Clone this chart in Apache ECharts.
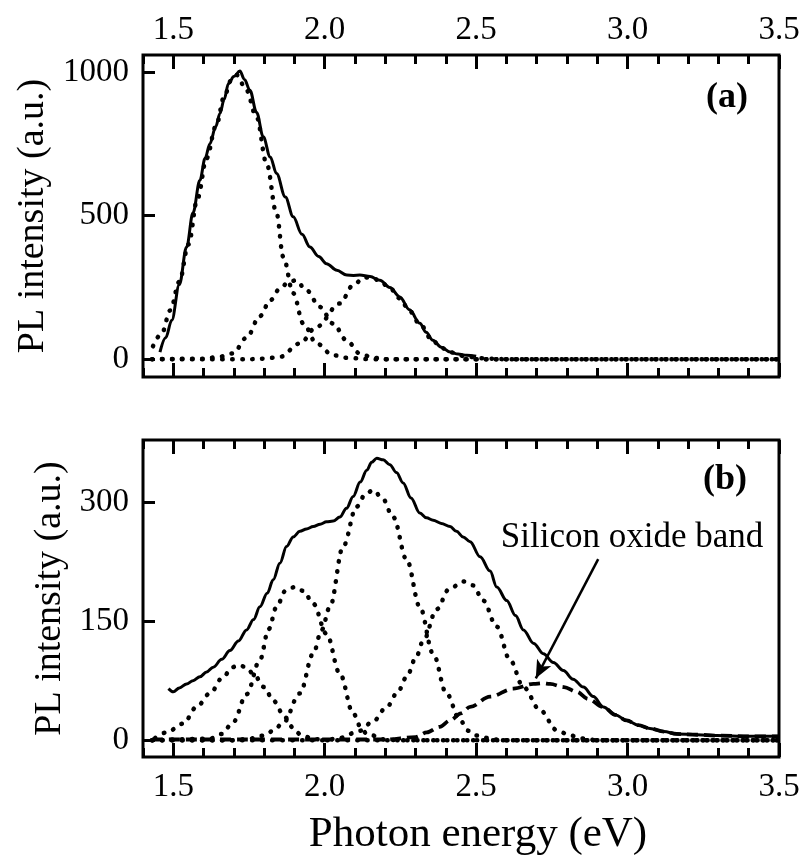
<!DOCTYPE html>
<html>
<head>
<meta charset="utf-8">
<script src="https://cdn.jsdelivr.net/npm/echarts@6/dist/echarts.min.js"></script>
<style>
  html, body { margin: 0; padding: 0; background: #fff; }
  #chart { width: 808px; height: 857px; }
</style>
</head>
<body>
<div id="chart"></div>
<script>
// Photon energy axis ticks (eV) and intensity ticks
const majorTicks = [1.5, 2.0, 2.5, 3.0, 3.5];
const minorTicks = [1.4, 1.6, 1.7, 1.8, 1.9, 2.1, 2.2, 2.3, 2.4, 2.6, 2.7, 2.8, 2.9, 3.1, 3.2, 3.3, 3.4];
const ticksA = [0, 500, 1000];
const ticksB = [0, 150, 300];

// Panel (a): measured PL spectrum
const aTotalE = [1.456,1.475,1.495,1.52,1.544,1.565,1.588,1.605,1.621,1.64,1.654,1.668,1.682,1.70,1.72,1.735,1.753,1.775,1.797,1.82,1.841,1.87,1.896,1.925,1.951,1.98,2.006,2.04,2.073,2.095,2.116,2.15,2.182,2.215,2.248,2.28,2.314,2.335,2.357,2.385,2.414,2.44,2.469,2.5];
const aTotalI = [25,75,136,260,391,510,624,700,751,810,856,905,960,985,1004,975,937,860,775,705,647,565,496,435,391,358,333,310,293,292,293,288,275,250,217,172,125,94,66,42,25,18,14,10];

// Panel (a): fitted Gaussian components
const aC1E = [1.433,1.462,1.49,1.52,1.55,1.58,1.61,1.64,1.67,1.69,1.71,1.74,1.775,1.808,1.841,1.863,1.896,1.929,1.973,2.027,2.08,2.15,2.5,3.0,3.5];
const aC1I = [45,90,170,270,400,560,700,810,920,970,990,940,844,682,508,357,230,125,55,14,4,0,0,0,0];
const aC2E = [1.43,1.6,1.65,1.697,1.742,1.786,1.82,1.852,1.88,1.905,1.94,1.984,2.028,2.072,2.116,2.16,2.2,2.6,3.0,3.5];
const aC2I = [0,2,8,20,75,150,205,246,268,275,240,182,124,66,20,5,0,0,0,0];
const aC3E = [1.43,1.75,1.80,1.852,1.918,1.973,2.05,2.094,2.13,2.16,2.182,2.215,2.248,2.28,2.314,2.357,2.385,2.414,2.469,2.52,2.6,3.0,3.5];
const aC3I = [0,0,2,8,55,113,194,258,285,283,272,248,212,168,122,64,40,24,9,3,0,0,0];

// Panel (b): measured PL spectrum
const bTotalE = [1.484,1.50,1.52,1.544,1.565,1.588,1.61,1.632,1.66,1.687,1.715,1.742,1.765,1.786,1.81,1.83,1.852,1.874,1.896,1.918,1.94,1.962,1.985,2.006,2.028,2.05,2.072,2.094,2.117,2.139,2.155,2.172,2.193,2.215,2.237,2.259,2.285,2.314,2.336,2.358,2.385,2.414,2.435,2.457,2.48,2.513,2.546,2.568,2.601,2.63,2.656,2.69,2.722,2.755,2.788,2.82,2.854,2.887,2.92,2.96,2.997,3.035,3.074,3.12,3.162,3.23,3.294,3.4,3.5];
const bTotalI = [65,61,66,71,75,80,86,92,102,113,125,139,152,168,185,202,223,244,256,263,266,269,272,275,276,281,292,307,325,340,350,355,353,347,337,324,305,286,280,277,273,269,263,256,250,231,213,193,176,157,139,122,109,98,88,77,67,55,42,32,25,19,15,11,8,7,6,5,5];

// Panel (b): fitted Gaussian components
const bC1E = [1.44,1.478,1.533,1.577,1.621,1.665,1.695,1.715,1.74,1.764,1.80,1.83,1.869,1.895,1.918,1.96,2.0,2.6,3.0,3.5];
const bC1I = [3,10,21,42,59,80,92,95,92,84,67,50,29,16,8,2,0,0,0,0];
const bC2E = [1.43,1.62,1.66,1.698,1.742,1.786,1.815,1.841,1.87,1.902,1.93,1.962,2.006,2.05,2.094,2.12,2.139,2.2,2.25,2.8,3.5];
const bC2I = [0,2,8,23,58,101,140,168,188,193,188,172,134,84,34,16,8,1,0,0,0];
const bC3E = [1.43,1.70,1.75,1.80,1.83,1.863,1.918,1.962,1.99,2.017,2.061,2.105,2.135,2.16,2.19,2.226,2.271,2.314,2.358,2.402,2.447,2.475,2.502,2.56,2.6,3.0,3.5];
const bC3I = [0,0,2,6,12,22,59,109,139,168,244,294,310,315,305,281,227,168,109,59,25,12,6,1,0,0,0];
const bC4E = [1.43,2.0,2.05,2.116,2.16,2.205,2.24,2.271,2.3,2.325,2.37,2.41,2.457,2.49,2.523,2.568,2.612,2.656,2.711,2.766,2.81,2.86,2.9,3.2,3.5];
const bC4I = [0,0,3,12,24,42,60,80,103,125,165,190,200,195,176,143,101,67,38,13,6,2,0,0,0];

// Panel (b): silicon oxide band
const bOxE = [1.43,2.2,2.3,2.337,2.38,2.414,2.45,2.48,2.546,2.623,2.689,2.72,2.744,2.79,2.832,2.87,2.92,2.96,2.997,3.035,3.074,3.12,3.162,3.23,3.294,3.4,3.5];
const bOxI = [1,1,4,10,17,25,34,42,55,65,71,72,71,67,61,52,42,32,25,19,15,11,8,7,6,5,5];

const SERIF = '"Liberation Serif", "Times New Roman", serif';
const zip = (xs, ys) => xs.map((x, i) => [x, ys[i]]);

const chart = echarts.init(document.getElementById('chart'), null, { renderer: 'canvas' });

// Energy axis that carries the tick labels (and the title on panel b)
function energyLabelAxis(gridIndex, position, name) {
  return {
    type: 'value', gridIndex, position, min: 1.4, max: 3.5,
    axisLine: { show: false, onZero: false },
    splitLine: { show: false },
    axisTick: { show: false },
    axisLabel: {
      show: true, customValues: majorTicks, margin: position === 'top' ? 8 : 14,
      fontFamily: SERIF, fontSize: 33, color: '#000',
      formatter: v => v.toFixed(1)
    },
    name: name || '',
    nameLocation: 'middle', nameGap: 56,
    nameTextStyle: { fontFamily: SERIF, fontSize: 43, color: '#000', padding: [0, 0, 0, 34] }
  };
}

// Label-less energy axis drawing one set of inward ticks
function energyTickAxis(gridIndex, position, ticks, len) {
  return {
    type: 'value', gridIndex, position, min: 1.4, max: 3.5,
    axisLine: { show: false, onZero: false },
    splitLine: { show: false },
    axisTick: { show: true, inside: true, length: len, customValues: ticks,
                lineStyle: { color: '#000', width: 3 } },
    axisLabel: { show: false }
  };
}

function intensityLabelAxis(gridIndex, min, max, ticks) {
  return {
    type: 'value', gridIndex, position: 'left', min, max,
    axisLine: { show: false, onZero: false },
    splitLine: { show: false },
    axisTick: { show: false },
    axisLabel: { show: true, customValues: ticks, margin: 14,
                 fontFamily: SERIF, fontSize: 33, color: '#000',
                 formatter: v => String(v) },
    name: 'PL intensity (a.u.)', nameLocation: 'middle', nameRotate: 90, nameGap: 70,
    nameTextStyle: { fontFamily: SERIF, fontSize: 38, color: '#000' }
  };
}

// Label-less intensity axis drawing the inward ticks
function intensityTickAxis(gridIndex, min, max, ticks) {
  return {
    type: 'value', gridIndex, position: 'left', min, max,
    axisLine: { show: false, onZero: false },
    splitLine: { show: false },
    axisTick: { show: true, inside: true, length: 12, customValues: ticks,
                lineStyle: { color: '#000', width: 3 } },
    axisLabel: { show: false }
  };
}

const solid = { color: '#000', width: 3 };
const dotted = { color: '#000', width: 4.5, type: [0.5, 9.5], cap: 'round' };
const dashed = { color: '#000', width: 3.8, type: [11, 6] };

function curve(xAxisIndex, yAxisIndex, xs, ys, style, z, extra) {
  return Object.assign({
    type: 'line', xAxisIndex, yAxisIndex, data: zip(xs, ys),
    showSymbol: false, symbol: 'none', smooth: 0.35, smoothMonotone: 'x',
    lineStyle: style, z, silent: true, animation: false
  }, extra || {});
}

const option = {
  animation: false,
  backgroundColor: '#fff',
  grid: [
    { left: 143, right: 29, top: 55, height: 322, show: true, borderColor: '#000', borderWidth: 3, backgroundColor: 'transparent' },
    { left: 143, right: 29, top: 440, height: 317, show: true, borderColor: '#000', borderWidth: 3, backgroundColor: 'transparent' }
  ],
  xAxis: [
    energyLabelAxis(0, 'top'),
    energyTickAxis(0, 'top', majorTicks, 14),
    energyTickAxis(0, 'top', minorTicks, 9),
    energyTickAxis(0, 'bottom', majorTicks, 14),
    energyTickAxis(0, 'bottom', minorTicks, 9),
    energyLabelAxis(1, 'bottom', 'Photon energy (eV)'),
    energyTickAxis(1, 'bottom', majorTicks, 14),
    energyTickAxis(1, 'bottom', minorTicks, 9),
    energyTickAxis(1, 'top', majorTicks, 14),
    energyTickAxis(1, 'top', minorTicks, 9)
  ],
  yAxis: [
    intensityLabelAxis(0, -62, 1060, ticksA),
    intensityTickAxis(0, -62, 1060, ticksA),
    intensityLabelAxis(1, -21, 378, ticksB),
    intensityTickAxis(1, -21, 378, ticksB)
  ],
  series: [
    curve(0, 0, aC1E, aC1I, dotted, 2),
    curve(0, 0, aC2E, aC2I, dotted, 2),
    curve(0, 0, aC3E, aC3I, dotted, 2),
    curve(0, 0, aTotalE, aTotalI, solid, 3),

    curve(5, 2, bC1E, bC1I, dotted, 2),
    curve(5, 2, bC2E, bC2I, dotted, 2),
    curve(5, 2, bC3E, bC3I, dotted, 2),
    curve(5, 2, bC4E, bC4I, dotted, 2),
    curve(5, 2, bOxE, bOxI, dashed, 2, {
      markLine: {
        silent: true, animation: false,
        symbol: ['none', 'arrow'], symbolSize: [12, 18],
        label: { show: false },
        lineStyle: { color: '#000', width: 2.5, type: 'solid' },
        data: [[{ coord: [2.903, 228] }, { coord: [2.697, 78] }]]
      }
    }),
    curve(5, 2, bTotalE, bTotalI, solid, 3)
  ],
  graphic: [
    { type: 'text', x: 727, y: 98, style: { text: '(a)', font: 'bold 36px ' + SERIF, fill: '#000', align: 'center', verticalAlign: 'middle' } },
    { type: 'text', x: 725, y: 480, style: { text: '(b)', font: 'bold 36px ' + SERIF, fill: '#000', align: 'center', verticalAlign: 'middle' } },
    { type: 'text', x: 632, y: 538, style: { text: 'Silicon oxide band', font: '35px ' + SERIF, fill: '#000', align: 'center', verticalAlign: 'middle' } }
  ]
};

chart.setOption(option);
</script>
</body>
</html>
